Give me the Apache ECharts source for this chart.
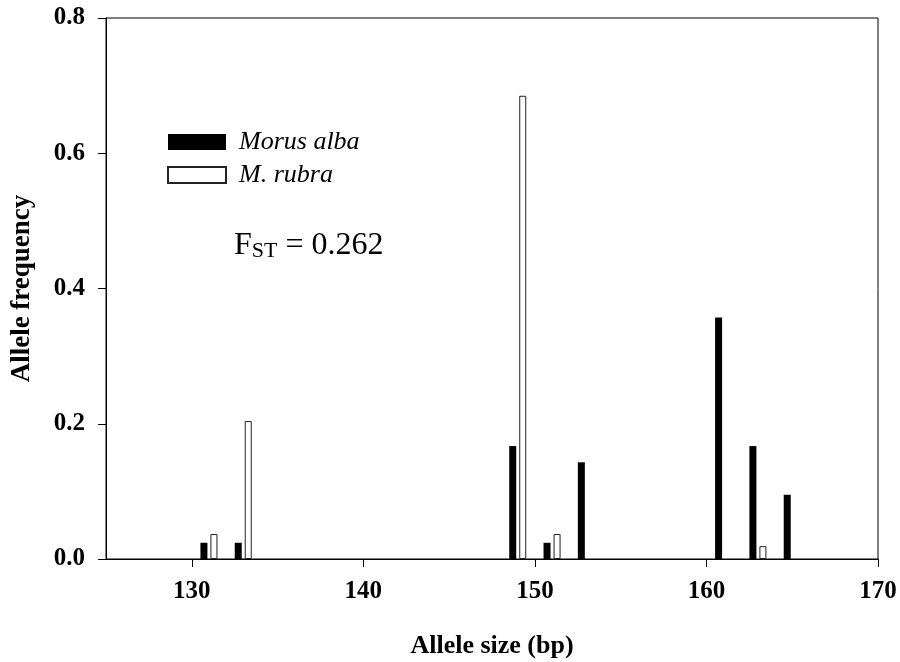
<!DOCTYPE html>
<html>
<head>
<meta charset="utf-8">
<script src="https://cdn.jsdelivr.net/npm/echarts@6/dist/echarts.min.js"></script>
<style>
html,body{margin:0;padding:0;background:#fff;}
#chart{width:900px;height:662px;}
</style>
</head>
<body>
<div id="chart"></div>
<script>
// Allele sizes (bp) and frequencies
var allelesAlba = [131, 133, 149, 151, 153, 161, 163, 165];
var freqAlba    = [0.024, 0.024, 0.167, 0.024, 0.143, 0.357, 0.167, 0.095];
var allelesRubra = [131, 133, 149, 151, 163];
var freqRubra    = [0.037, 0.204, 0.685, 0.037, 0.019];
var xTicks = [130, 140, 150, 160, 170];
var seriesNames = ['Morus alba', 'M. rubra'];
var fstText = '0.262';

var FONT = '"Liberation Serif", "Times New Roman", serif';

function pairs(xs, ys) { return xs.map(function (x, i) { return [x, ys[i]]; }); }

var chart = echarts.init(document.getElementById('chart'), null, {renderer: 'canvas'});
chart.setOption({
  animation: false,
  backgroundColor: '#fff',
  grid: {left: 106, right: 22, top: 18, bottom: 103, outerBoundsMode: 'none', containLabel: false,
    show: true, borderColor: '#000', borderWidth: 1, backgroundColor: 'transparent'},
  legend: {
    left: 167, top: 129, padding: 0, orient: 'vertical', itemWidth: 58, itemHeight: 16, itemGap: 7,
    icon: 'rect',
    textStyle: {fontFamily: FONT, fontStyle: 'italic', fontSize: 26, color: '#000', padding: [0, 0, 0, 8]},
    data: seriesNames
  },
  xAxis: {
    type: 'value', min: 125, max: 170,
    name: 'Allele size (bp)', nameLocation: 'middle', nameGap: 74,
    nameTextStyle: {fontFamily: FONT, fontWeight: 'bold', fontSize: 26, color: '#000'},
    axisLine: {show: true, onZero: false, lineStyle: {color: '#000', width: 1}},
    axisTick: {show: true, inside: false, length: 8, lineStyle: {color: '#000'}, customValues: xTicks},
    axisLabel: {fontFamily: FONT, fontWeight: 'bold', fontSize: 25, color: '#000', margin: 20, customValues: xTicks},
    splitLine: {show: false}
  },
  yAxis: {
    type: 'value', min: 0, max: 0.8, interval: 0.2,
    name: 'Allele frequency', nameLocation: 'middle', nameGap: 70,
    nameTextStyle: {fontFamily: FONT, fontWeight: 'bold', fontSize: 27, color: '#000'},
    axisLine: {show: true, lineStyle: {color: '#000', width: 1}},
    axisTick: {show: true, inside: false, length: 8, lineStyle: {color: '#000'}},
    axisLabel: {fontFamily: FONT, fontWeight: 'bold', fontSize: 25, color: '#000', margin: 21,
      formatter: function (v) { return v.toFixed(1); }},
    splitLine: {show: false}
  },
  series: [
    {
      name: seriesNames[0], type: 'bar', barWidth: 7, barGap: '43%',
      itemStyle: {color: '#000', borderColor: '#000', borderWidth: 0},
      data: pairs(allelesAlba, freqAlba)
    },
    {
      name: seriesNames[1], type: 'bar', barWidth: 7, barGap: '43%',
      itemStyle: {color: '#fff', borderColor: '#222', borderWidth: 1},
      data: pairs(allelesRubra, freqRubra)
    }
  ],
  graphic: [{
    type: 'text', left: 234, top: 230,
    style: {
      text: '{a|F}{b|ST}{a| = ' + fstText + '}',
      rich: {
        a: {fontFamily: FONT, fontSize: 32, fill: '#000', verticalAlign: 'bottom', lineHeight: 34},
        b: {fontFamily: FONT, fontSize: 22, fill: '#000', verticalAlign: 'bottom', lineHeight: 26}
      }
    }
  }]
});
</script>
</body>
</html>
